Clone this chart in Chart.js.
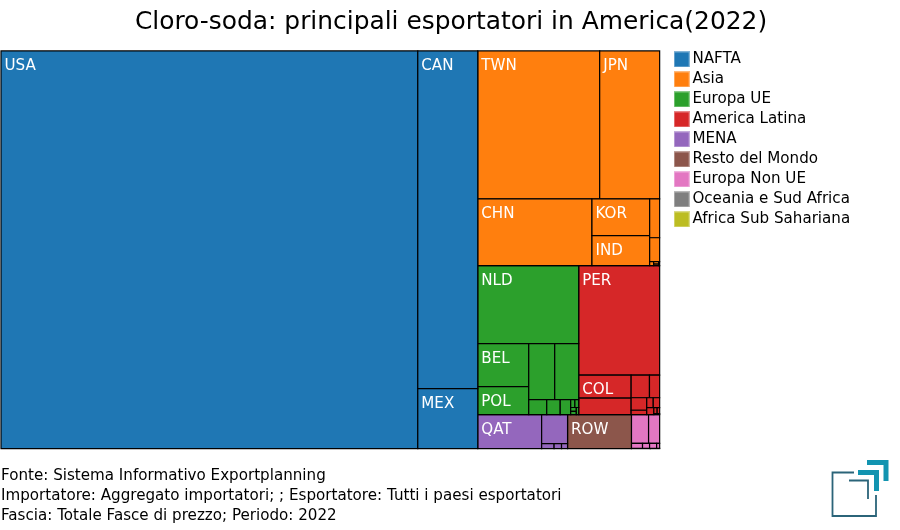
<!DOCTYPE html>
<html><head><meta charset="utf-8">
<style>html,body{margin:0;padding:0;background:#fff}canvas{display:block}</style>
<script src="https://cdn.jsdelivr.net/npm/chart.js@4/dist/chart.umd.js"></script>
</head><body><canvas id="c" width="900" height="530"></canvas>
<script>
const titleText = "Cloro-soda: principali esportatori in America(2022)";
const footerLines = ["Fonte: Sistema Informativo Exportplanning","Importatore: Aggregato importatori; ; Esportatore: Tutti i paesi esportatori","Fascia: Totale Fasce di prezzo; Periodo: 2022"];
const groupNames = ["NAFTA","Asia","Europa UE","America Latina","MENA","Resto del Mondo","Europa Non UE","Oceania e Sud Africa","Africa Sub Sahariana"];
const groupColors = ["#1f77b4","#ff7f0e","#2ca02c","#d62728","#9467bd","#8c564b","#e377c2","#7f7f7f","#bcbd22"];

const naftaLabels = ["USA","CAN","MEX"];
const naftaValues = [165966,20280,3600];
const asiaLabels = ["TWN","JPN","CHN","KOR","IND","","","","","",""];
const asiaValues = [18056,8880,7650,2130,1735,390,240,16,12,8,4];
const euLabels = ["NLD","BEL","POL","","","","","","","","","",""];
const euValues = [7878,2193,1428,1456,1344,270,202,157,33,30,22,18,17];
const latamLabels = ["PER","COL","","","","","","","","","","",""];
const latamValues = [8875,1200,870,414,230,195,68,64,63,50,20,15,6];
const menaLabels = ["QAT","","","",""];
const menaValues = [2176,754,62,37,30];
const rowLabels = ["ROW"];
const rowValues = [2176];
const nueLabels = ["","","","","",""];
const nueValues = [493,319,55,35,35,15];
const oceaniaLabels = [""];
const oceaniaValues = [6];
const africaLabels = [""];
const africaValues = [3];

const groupLabels = [naftaLabels,asiaLabels,euLabels,latamLabels,menaLabels,rowLabels,nueLabels,oceaniaLabels,africaLabels];
const groupValues = [naftaValues,asiaValues,euValues,latamValues,menaValues,rowValues,nueValues,oceaniaValues,africaValues];

const sum = a => a.reduce((s,v)=>s+v,0);
const RATIO = (1+Math.sqrt(5))/2;

// squarified treemap: splits frame f among values (sorted descending)
function squarify(values, f) {
  let {x0,y0,x1,y1} = f, value = sum(values), i0 = 0, i1 = 0;
  const n = values.length, out = [];
  while (i0 < n) {
    const dx = x1-x0, dy = y1-y0;
    let s = values[i1++], mn = s, mx = s;
    const alpha = Math.max(dy/dx, dx/dy)/(value*RATIO);
    let beta = s*s*alpha, minR = Math.max(mx/beta, beta/mn);
    for (; i1<n; ++i1) {
      const v = values[i1];
      s += v;
      const m2 = Math.min(mn,v), M2 = Math.max(mx,v);
      beta = s*s*alpha;
      const r = Math.max(M2/beta, beta/m2);
      if (r > minR) { s -= v; break; }
      mn = m2; mx = M2; minR = r;
    }
    if (dx < dy) {
      const h = dy*s/value; let x = x0;
      for (let i=i0;i<i1;i++){ const w = dx*values[i]/s; out.push({x0:x,y0:y0,x1:x+w,y1:y0+h}); x+=w; }
      y0 += h;
    } else {
      const w = dx*s/value; let y = y0;
      for (let i=i0;i<i1;i++){ const h = dy*values[i]/s; out.push({x0:x0,y0:y,x1:x0+w,y1:y+h}); y+=h; }
      x0 += w;
    }
    value -= s; i0 = i1;
  }
  return out;
}

function layoutCells(w, h) {
  const frames = squarify(groupValues.map(sum), {x0:0,y0:0,x1:w,y1:h});
  return groupValues.map((vals,i)=>squarify(vals, frames[i]).map(c=>({
    x0:c.x0/w, x1:c.x1/w, y0:c.y0/h, y1:c.y1/h })));
}

class TreemapCell extends Chart.BarElement {
  draw(ctx){
    const {x,y,base,width} = this.getProps(['x','y','base','width']);
    const o = this.options;
    ctx.save();
    ctx.fillStyle = o.backgroundColor;
    ctx.strokeStyle = o.borderColor;
    ctx.lineWidth = o.borderWidth;
    ctx.beginPath();
    ctx.rect(x-width/2, y, width, base-y);
    ctx.fill(); ctx.stroke();
    ctx.restore();
  }
}
TreemapCell.id = 'treemapCell';
TreemapCell.defaults = {...Chart.BarElement.defaults};

class TreemapCellsController extends Chart.DatasetController {
  update() {
    const meta = this._cachedMeta;
    const area = this.chart.chartArea;
    const cells = layoutCells(area.width, area.height)[this.index];
    const {xScale, yScale} = meta, ds = this.getDataset();
    meta.data.forEach((el,i)=>{
      const c = cells[i];
      const l = xScale.getPixelForValue(c.x0), r = xScale.getPixelForValue(c.x1);
      const t = yScale.getPixelForValue(c.y0), b = yScale.getPixelForValue(c.y1);
      Object.assign(el,{x:(l+r)/2,y:t,base:b,width:r-l,height:b-t,horizontal:false,
        options:{backgroundColor:ds.backgroundColor,borderColor:ds.borderColor,borderWidth:ds.borderWidth}});
    });
  }
}
TreemapCellsController.id = 'treemapCells';
TreemapCellsController.defaults = {dataElementType:'treemapCell'};
Chart.register(TreemapCell, TreemapCellsController);

function swatch(color){
  const c = document.createElement('canvas'); c.width = 16; c.height = 16;
  const x = c.getContext('2d');
  x.fillStyle = color; x.globalAlpha = 0.55; x.fillRect(0,0,16,16);
  x.globalAlpha = 1; x.fillRect(1,1,14,14);
  return c;
}

const cellLabels = {
  id:'cellLabels',
  afterDatasetsDraw(chart){
    const ctx = chart.ctx; ctx.save();
    ctx.fillStyle = '#fff'; ctx.font = '15.13px "DejaVu Sans"'; ctx.textBaseline = 'alphabetic'; ctx.textAlign='left';
    chart.data.datasets.forEach((d,i)=>{
      chart.getDatasetMeta(i).data.forEach((el,j)=>{
        if (d.cellNames[j]) ctx.fillText(d.cellNames[j], el.x-el.width/2+3.5, el.y+19);
      });
    });
    ctx.restore();
  }
};

const placeBlocks = {
  id:'placeBlocks',
  afterLayout(chart){
    const t = chart.titleBlock; t.left = 0; t.right = 902; t.width = 902;
    chart.legend.top -= 3.9;
  }
};

const logo = {
  id:'logo',
  afterDraw(chart){
    const ctx = chart.ctx; ctx.save();
    const line=(pts,col,w)=>{ctx.beginPath();pts.forEach((p,i)=>i?ctx.lineTo(p[0],p[1]):ctx.moveTo(p[0],p[1]));ctx.strokeStyle=col;ctx.lineWidth=w;ctx.lineJoin='miter';ctx.stroke();};
    line([[854,472.5],[832.5,472.5],[832.5,516],[876,516],[876,495]],'#2b6479',1.8);
    line([[849,480.5],[868,480.5],[868,499]],'#2b6479',1.8);
    line([[858,472.5],[876.5,472.5],[876.5,491]],'#1294b0',5);
    line([[867,462.5],[886,462.5],[886,481]],'#1294b0',5);
    ctx.restore();
  }
};

new Chart(document.getElementById('c'),{
  type:'treemapCells',
  data:{labels:[],datasets:groupNames.map((name,i)=>({
    label:name,data:groupValues[i],cellNames:groupLabels[i],
    backgroundColor:groupColors[i],borderColor:'#000',borderWidth:1.2}))},
  options:{
    responsive:false,animation:false,devicePixelRatio:1,
    layout:{padding:{left:1,right:39.8,top:0,bottom:4}},
    scales:{
      x:{type:'linear',display:false,min:0,max:1},
      y:{type:'linear',position:'right',reverse:true,min:0,max:1,
         ticks:{display:false},grid:{display:false},border:{display:false},
         afterFit(s){s.width=14;}}
    },
    plugins:{
      tooltip:{enabled:false},
      title:{display:true,text:titleText,color:'#000',font:{family:'"DejaVu Sans"',size:24.9,weight:'normal'},padding:{top:8,bottom:13}},
      subtitle:{display:true,position:'bottom',align:'start',text:footerLines,color:'#000',font:{family:'"DejaVu Sans"',size:15.13,weight:'normal',lineHeight:1.33},padding:{top:17,bottom:0}},
      legend:{position:'right',align:'start',fullSize:false,labels:{
        font:{family:'"DejaVu Sans"',size:15.13},color:'#000',usePointStyle:true,pointStyleWidth:6.3,boxHeight:16,padding:4.87,
        generateLabels(chart){return chart.data.datasets.map((d,i)=>({text:d.label,fillStyle:d.backgroundColor,strokeStyle:d.backgroundColor,lineWidth:0,pointStyle:swatch(d.backgroundColor),datasetIndex:i,hidden:false}));}
      }}
    }
  },
  plugins:[cellLabels,placeBlocks,logo]
});
</script></body></html>
